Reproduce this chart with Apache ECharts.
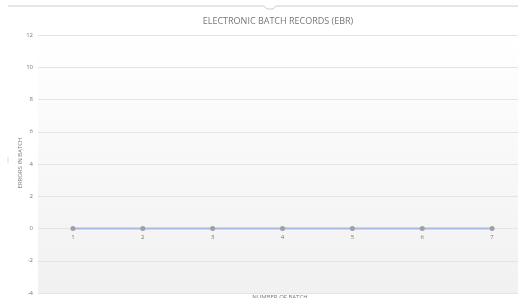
<!DOCTYPE html>
<html><head><meta charset="utf-8">
<script src="https://cdn.jsdelivr.net/npm/echarts@6/dist/echarts.min.js"></script>
<style>html,body{margin:0;padding:0;background:#fff}#c{width:518px;height:298px}</style>
</head><body><div id="c"></div>
<script>
const categories = ['1','2','3','4','5','6','7'];
const errors = [0,0,0,0,0,0,0];
const chartTitle = 'ELECTRONIC BATCH RECORDS (EBR)';
const yTitle = 'ERRORS IN BATCH';
const xTitle = 'NUMBER OF BATCH';

const chart = echarts.init(document.getElementById('c'));
chart.setOption({
  animation:false,
  backgroundColor:'#fff',
  title:{text:chartTitle,left:273,top:12,textAlign:'center',
    textStyle:{fontFamily:'Open Sans',fontSize:9,fontWeight:'normal',color:'#777'}},
  graphic:[
    {type:'polyline',shape:{points:[[8,6],[264,6],[267,9],[273,9],[276,6],[518,6]]},style:{stroke:'#ccc',fill:null,lineWidth:1}},
    {type:'text',x:280,y:297,style:{text:xTitle,fontFamily:'Open Sans',fontSize:6,fill:'#777',align:'center',verticalAlign:'middle'}},
    {type:'text',x:20,y:163,rotation:Math.PI/2,style:{text:yTitle,fontFamily:'Open Sans',fontSize:6,fill:'#777',align:'center',verticalAlign:'middle'}},
    {type:'line',shape:{x1:8,y1:157,x2:8,y2:163},style:{stroke:'#ddd',lineWidth:1}}
  ],
  grid:{left:38,top:35,width:489,height:258,show:true,borderWidth:0,outerBoundsMode:'none',containLabel:false,
    backgroundColor:{type:'linear',x:0,y:0,x2:0,y2:1,colorStops:[{offset:0,color:'#ffffff'},{offset:1,color:'#f1f1f1'}]}},
  xAxis:{type:'category',data:categories,boundaryGap:true,position:'bottom',offset:-64,
    axisLine:{show:false,onZero:false},axisTick:{show:false},
    axisLabel:{fontSize:6,color:'#777',margin:5,fontFamily:'Open Sans',hideOverlap:false,showMinLabel:true,showMaxLabel:true,interval:0},
    splitLine:{show:false}},
  yAxis:{type:'value',min:-4,max:12,interval:2,
    axisLine:{show:false},axisTick:{show:false},
    axisLabel:{fontSize:6,color:'#777',margin:5,fontFamily:'Open Sans'},
    splitLine:{lineStyle:{color:'#e4e4e4',width:1}}},
  series:[{type:'line',data:errors,symbol:'circle',symbolSize:5,
    lineStyle:{color:'#a9b9e2',width:2},
    itemStyle:{color:'#a0a0a0'}}]
});
</script></body></html>
